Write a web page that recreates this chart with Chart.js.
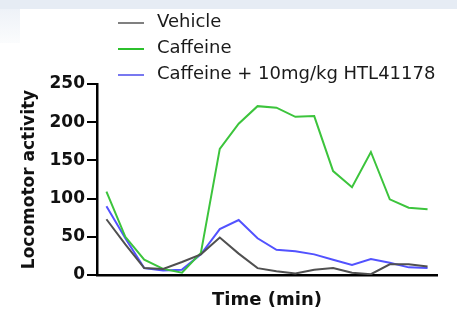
<!DOCTYPE html>
<html>
<head>
<meta charset="utf-8">
<script src="https://cdn.jsdelivr.net/npm/chart.js@4"></script>
<style>
  body { margin: 0; background: #fff; }
  .wrap { position: relative; width: 457px; height: 314px; overflow: hidden; }
  .topband { position: absolute; left: 0; top: 0; width: 457px; height: 9px; background: #e6ecf4; }
  .leftband { position: absolute; left: 0; top: 9px; width: 20px; height: 34px; background: linear-gradient(#eef2f8, #fbfcfd); }
  canvas { position: absolute; left: 0; top: 0; }
</style>
</head>
<body>
<div class="wrap">
  <div class="topband"></div>
  <div class="leftband"></div>
  <canvas id="locomotor" width="457" height="314"></canvas>
</div>
<script>
// time bins (x axis has no tick labels)
const timeBins = ['1','2','3','4','5','6','7','8','9','10','11','12','13','14','15','16','17','18'];

const vehicle = [73, 40, 9, 8, 17, 27, 49, 28, 9, 5, 2, 7, 9, 3, 1, 14, 14, 11];
const caffeine = [109, 50, 20, 8, 3, 29, 165, 198, 221, 219, 207, 208, 136, 115, 161, 99, 88, 86];
const caffeineHTL = [90, 48, 9, 6, 7, 27, 60, 72, 48, 33, 31, 27, 20, 13, 21, 16, 10, 9];

const seriesNames = ['Vehicle', 'Caffeine', 'Caffeine + 10mg/kg HTL41178'];
const yTicks = [0, 50, 100, 150, 200, 250];

const FONT = 'DejaVu Sans';

// legend stacked in one column, top left
const stackedLegend = {
  id: 'stackedLegend',
  afterDraw(chart) {
    const ctx = chart.ctx;
    ctx.save();
    ctx.font = '18px "' + FONT + '"';
    ctx.textBaseline = 'middle';
    chart.data.datasets.forEach((ds, i) => {
      const y = 22 + i * 26;
      ctx.strokeStyle = ds.legendColor;
      ctx.lineWidth = 2;
      ctx.beginPath();
      ctx.moveTo(118, y + 1);
      ctx.lineTo(144, y + 1);
      ctx.stroke();
      ctx.fillStyle = '#1a1a1a';
      ctx.fillText(ds.label, 157, y);
    });
    ctx.restore();
  }
};

const ctx = document.querySelector('#locomotor');
const chart = new Chart(ctx, {
  type: 'line',
  data: {
    labels: timeBins,
    datasets: [
      { label: seriesNames[0], data: vehicle, borderColor: '#505050', legendColor: '#808080' },
      { label: seriesNames[1], data: caffeine, borderColor: '#3cc43c', legendColor: '#2cc02c' },
      { label: seriesNames[2], data: caffeineHTL, borderColor: '#5252ff', legendColor: '#7878f0' }
    ]
  },
  options: {
    responsive: false,
    animation: false,
    elements: {
      line: { borderWidth: 2, tension: 0 },
      point: { radius: 0 }
    },
    layout: { padding: { top: 84, right: 20, left: 0, bottom: 0 } },
    plugins: {
      legend: { display: false },
      tooltip: { enabled: false }
    },
    scales: {
      x: {
        offset: true,
        grid: { display: false },
        border: { display: true, color: '#000', width: 2.5 },
        ticks: { display: false },
        title: {
          display: true,
          text: 'Time (min)',
          color: '#111',
          font: { family: FONT, size: 18, weight: 'bold' },
          padding: { top: 15, bottom: 3 }
        },
        afterFit: s => { s.height = 39; }
      },
      y: {
        min: 0,
        max: 250,
        afterBuildTicks: s => { s.ticks = yTicks.map(v => ({ value: v })); },
        grid: { display: true, drawOnChartArea: false, drawTicks: true, tickLength: 10, color: '#000', lineWidth: 2 },
        border: { display: true, color: '#000', width: 2.5 },
        ticks: {
          color: '#111',
          padding: 2,
          font: { family: FONT, size: 17, weight: 'bold' }
        },
        title: {
          display: true,
          text: 'Locomotor activity',
          color: '#111',
          font: { family: FONT, size: 17, weight: 'bold' },
          padding: { top: 19, bottom: 0 }
        },
        afterFit: s => { s.width = 97; }
      }
    }
  },
  plugins: [stackedLegend]
});
</script>
</body>
</html>
